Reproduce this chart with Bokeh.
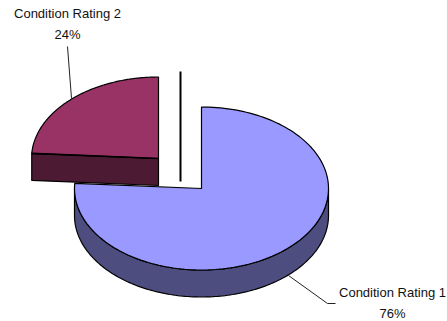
import numpy as np
from bokeh.embed import file_html
from bokeh.resources import INLINE
from bokeh.plotting import figure

# Chart content
categories = ["Condition Rating 1", "Condition Rating 2"]
shares = [76, 24]
share_labels = ["76%", "24%"]
top_colors = ["#9999FF", "#993366"]
wall_colors = ["#4D4D80", "#4D1A33"]

# Pie geometry in page pixels
RX, RY, DEPTH = 127, 81.5, 27
CENTERS = [(201, 188), (158, 158)]
LABEL_X = [392, 67]
LABEL_Y = [292, 13]
LINE_GAP = 21
LEADERS = [([288, 327, 335], [275, 303, 303]), ([67, 71], [46, 98])]

W, H = 447, 321
p = figure(width=W, height=H, x_range=(0, W), y_range=(H, 0),
           output_backend="svg", toolbar_location=None, min_border=0)
p.xaxis.visible = False
p.yaxis.visible = False
p.xgrid.visible = False
p.ygrid.visible = False
p.outline_line_color = None
p.background_fill_color = "white"
p.border_fill_color = "white"


def rim(cx, cy, start, end, n=160):
    """Points on the ellipse, with angles in degrees clockwise from the top."""
    t = np.radians(np.linspace(start, end, n))
    return cx + RX * np.sin(t), cy - RY * np.cos(t)


split = 360 * shares[0] / sum(shares)

# Blue slice: the curved wall along the front of the rim, then the top face
cx, cy = CENTERS[0]
xs, ys = rim(cx, cy, 90, 270)
p.patch(np.r_[xs, xs[::-1]], np.r_[ys, ys[::-1] + DEPTH],
        fill_color=wall_colors[0], line_color="black", line_width=1.2)
xs, ys = rim(cx, cy, 0, split)
p.patch(np.r_[cx, xs], np.r_[cy, ys],
        fill_color=top_colors[0], line_color="black", line_width=1.2)

# Exploded slice: the flat cut face, then the top face
cx, cy = CENTERS[1]
xs, ys = rim(cx, cy, split, 360)
p.patch([xs[0], cx, cx, xs[0]], [ys[0], cy, cy + DEPTH, ys[0] + DEPTH],
        fill_color=wall_colors[1], line_color="black", line_width=1.2)
p.patch(np.r_[cx, xs], np.r_[cy, ys],
        fill_color=top_colors[1], line_color="black", line_width=1.2)
p.line([cx, xs[0]], [cy, ys[0]], line_color="black", line_width=1.6)

# Vertical rule between the slices
p.line([180, 180], [71, 181], line_color="black", line_width=2)

# Leader lines and two-line labels
for (lx, ly), tx, ty, name, pct in zip(LEADERS, LABEL_X, LABEL_Y, categories, share_labels):
    p.line(lx, ly, line_color="#222222", line_width=1)
    p.text([tx, tx], [ty, ty + LINE_GAP], text=[name, pct],
           text_font={"value": "Liberation Sans"}, text_font_size="13px",
           text_color="#111111", text_align="center", text_baseline="middle")

open("out.html", "w").write(file_html(p, INLINE))
